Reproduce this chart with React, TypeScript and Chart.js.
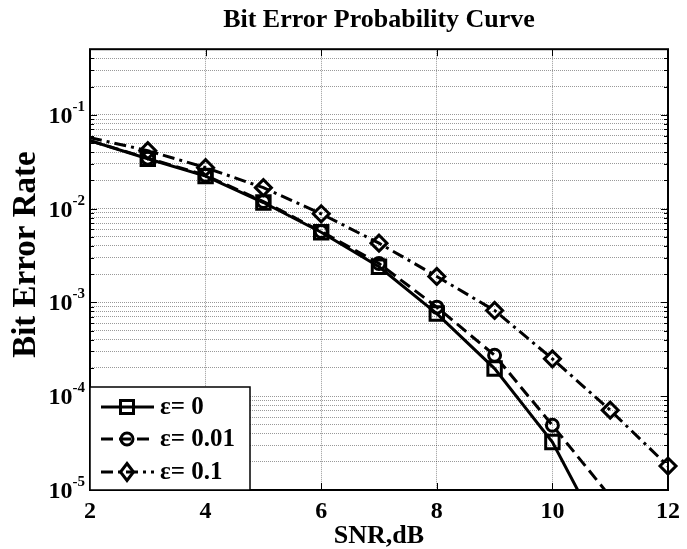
import React, { useEffect, useRef } from 'react';
import { Chart, registerables } from 'chart.js';

Chart.register(...registerables);

// ---- data ----
const snrDb = [2, 3, 4, 5, 6, 7, 8, 9, 10, 11, 12];
const berEps0 = [0.0528, 0.034, 0.0222, 0.0116, 0.0056, 0.0024, 0.00076, 0.000197, 0.0000325, 0.0000022, null];
const berEps001 = [0.0528, 0.0345, 0.0226, 0.0119, 0.0057, 0.0026, 0.00089, 0.000273, 0.000049, 0.0000085, null];
const berEps01 = [0.057, 0.0414, 0.0273, 0.0167, 0.0088, 0.00428, 0.00189, 0.00082, 0.00025, 0.000071, 0.000018];
const seriesLabels = ['ε= 0', 'ε= 0.01', 'ε= 0.1'];
const xTickValues = [2, 4, 6, 8, 10, 12];
const yDecades = [1e-5, 1e-4, 1e-3, 1e-2, 1e-1];
const yDecadeExponents = ['-5', '-4', '-3', '-2', '-1'];
const yMultipliers = [1, 2, 3, 4, 5, 6, 7, 8, 9];
const xMin = 2;
const xMax = 12;
const yMin = 1e-5;
const yMax = 0.5;
const titleText = 'Bit Error Probability Curve';
const xTitleText = 'SNR,dB';
const yTitleText = 'Bit Error Rate';

const FAMILY = '"Liberation Serif", "Times New Roman", "DejaVu Serif", serif';
const styles = [
  { dash: [] as number[], marker: 'rect', radius: 9.5 },
  { dash: [12, 6], marker: 'circle', radius: 6 },
  { dash: [12, 5, 3, 5], marker: 'rectRot', radius: 8 },
];

function yTickList() {
  const out: number[] = [];
  for (const d of yDecades) {
    for (const m of yMultipliers) {
      const v = d * m;
      if (v <= yMax * 1.0001) out.push(v);
    }
  }
  return out;
}

function drawMarker(ctx: CanvasRenderingContext2D, kind: string, x: number, y: number) {
  ctx.beginPath();
  if (kind === 'rect') {
    ctx.rect(x - 6.5, y - 6.5, 13, 13);
  } else if (kind === 'circle') {
    ctx.arc(x, y, 6, 0, Math.PI * 2);
  } else {
    ctx.moveTo(x, y - 8.5);
    ctx.lineTo(x + 6.5, y);
    ctx.lineTo(x, y + 8.5);
    ctx.lineTo(x - 6.5, y);
    ctx.closePath();
  }
  ctx.stroke();
}

const matlabPlugin = {
  id: 'matlabLook',
  beforeDatasetsDraw(chart: any) {
    const { ctx, chartArea: a, scales } = chart;
    const xs = scales.x;
    const ys = scales.y;
    ctx.save();
    ctx.strokeStyle = '#000';
    ctx.lineWidth = 1;
    ctx.setLineDash([]);
    const seg = (x1: number, y1: number, x2: number, y2: number) => {
      ctx.beginPath();
      ctx.moveTo(x1, y1);
      ctx.lineTo(x2, y2);
      ctx.stroke();
    };
    for (const v of xTickValues) {
      const px = Math.round(xs.getPixelForValue(v)) + 0.5;
      seg(px, a.bottom, px, a.bottom - 7);
      seg(px, a.top, px, a.top + 7);
    }
    for (const d of yDecades) {
      for (const m of yMultipliers) {
        const v = d * m;
        if (v > yMax * 1.0001) continue;
        const py = Math.round(ys.getPixelForValue(v)) + 0.5;
        const len = m === 1 ? 7 : 4;
        seg(a.left, py, a.left + len, py);
        seg(a.right, py, a.right - len, py);
      }
    }
    ctx.lineWidth = 2;
    ctx.strokeRect(a.left, a.top, a.right - a.left, a.bottom - a.top);
    ctx.restore();
  },
  afterDatasetsDraw(chart: any) {
    const { ctx, chartArea: a } = chart;
    ctx.save();
    // legend box
    const left = a.left;
    const right = a.left + 160;
    const top = a.bottom - 103;
    const bottom = a.bottom;
    ctx.fillStyle = '#fff';
    ctx.fillRect(left, top, right - left, bottom - top);
    ctx.strokeStyle = '#000';
    ctx.lineWidth = 1.5;
    ctx.setLineDash([]);
    ctx.strokeRect(left, top, right - left, bottom - top);
    const rows = [20, 52, 85];
    seriesLabels.forEach((label, i) => {
      const y = top + rows[i];
      ctx.lineWidth = 3;
      ctx.setLineDash(styles[i].dash);
      ctx.beginPath();
      ctx.moveTo(left + 11, y);
      ctx.lineTo(left + 64, y);
      ctx.stroke();
      ctx.setLineDash([]);
      ctx.lineWidth = 3;
      drawMarker(ctx, styles[i].marker, left + 37, y);
      ctx.fillStyle = '#000';
      ctx.font = `bold 25px ${FAMILY}`;
      ctx.textAlign = 'left';
      ctx.textBaseline = 'middle';
      ctx.fillText(label, left + 70, y + 1);
    });
    ctx.restore();
  },
  afterDraw(chart: any) {
    const { ctx, chartArea: a, scales } = chart;
    const ys = scales.y;
    ctx.save();
    ctx.fillStyle = '#000';
    yDecades.forEach((d, i) => {
      const py = ys.getPixelForValue(d);
      const sup = yDecadeExponents[i];
      ctx.font = `bold 15px ${FAMILY}`;
      const wSup = ctx.measureText(sup).width;
      ctx.font = `bold 24px ${FAMILY}`;
      const wBase = ctx.measureText('10').width;
      const rightEdge = a.left - 5;
      ctx.textAlign = 'left';
      ctx.textBaseline = 'alphabetic';
      ctx.fillText('10', rightEdge - wSup - wBase, py + 8);
      ctx.font = `bold 15px ${FAMILY}`;
      ctx.fillText(sup, rightEdge - wSup, py - 4);
    });
    // y axis title
    ctx.translate(35, (a.top + a.bottom) / 2 - 15);
    ctx.rotate(-Math.PI / 2);
    ctx.font = `bold 33px ${FAMILY}`;
    ctx.textAlign = 'center';
    ctx.textBaseline = 'alphabetic';
    ctx.fillText(yTitleText, 0, 0);
    ctx.restore();
  },
};

export default function App() {
  const ref = useRef<HTMLCanvasElement>(null);
  useEffect(() => {
    document.body.style.margin = '0';
    const canvas = ref.current;
    if (!canvas) return;
    const series = [berEps0, berEps001, berEps01];
    const datasets = series.map((arr, i) => ({
      label: seriesLabels[i],
      data: snrDb
        .map((x, j) => ({ x, y: arr[j] }))
        .filter((p) => p.y !== null),
      borderColor: '#000',
      borderWidth: 3,
      borderDash: styles[i].dash,
      pointStyle: styles[i].marker,
      pointRadius: (c: any) => (c.dataIndex === 0 ? 0 : styles[i].radius),
      pointBorderWidth: 3,
      pointBorderColor: '#000',
      pointBackgroundColor: 'rgba(0,0,0,0)',
      fill: false,
      tension: 0,
      clip: { left: 0, top: 0, right: 12, bottom: 0 },
    }));
    const chart = new Chart(canvas, {
      type: 'line',
      data: { datasets },
      plugins: [matlabPlugin],
      options: {
        responsive: false,
        animation: false,
        devicePixelRatio: 1,
        layout: { padding: { left: 0, right: 12, top: 0, bottom: 0 } },
        plugins: {
          legend: { display: false },
          tooltip: { enabled: false },
          title: {
            display: true,
            text: titleText,
            color: '#000',
            fullSize: false,
            font: { family: FAMILY, size: 26, weight: 'bold' },
            padding: { top: 5, bottom: 13 },
          },
        },
        scales: {
          x: {
            type: 'linear',
            min: xMin,
            max: xMax,
            afterBuildTicks: (s: any) => {
              s.ticks = xTickValues.map((v) => ({ value: v }));
            },
            afterFit: (s: any) => {
              s.height = 59;
            },
            grid: { color: 'rgba(0,0,0,0.4)', lineWidth: 1, drawTicks: false },
            border: { display: false, dash: [1, 1] },
            ticks: {
              color: '#000',
              font: { family: FAMILY, size: 24, weight: 'bold' },
              padding: 7,
              maxRotation: 0,
              autoSkip: false,
            },
            title: {
              display: true,
              text: xTitleText,
              color: '#000',
              font: { family: FAMILY, size: 26, weight: 'bold', lineHeight: 1 },
              padding: 0,
            },
          },
          y: {
            type: 'logarithmic',
            min: yMin,
            max: yMax,
            afterBuildTicks: (s: any) => {
              s.ticks = yTickList().map((v) => ({ value: v }));
            },
            afterFit: (s: any) => {
              s.width = 90;
            },
            grid: { color: 'rgba(0,0,0,0.4)', lineWidth: 1, drawTicks: false },
            border: { display: false, dash: [1, 1] },
            ticks: { display: false },
            title: { display: false },
          },
        },
      } as any,
    });
    return () => chart.destroy();
  }, []);
  return (
    <div style={{ width: 687, height: 549 }}>
      <canvas ref={ref} width={687} height={549} />
    </div>
  );
}
